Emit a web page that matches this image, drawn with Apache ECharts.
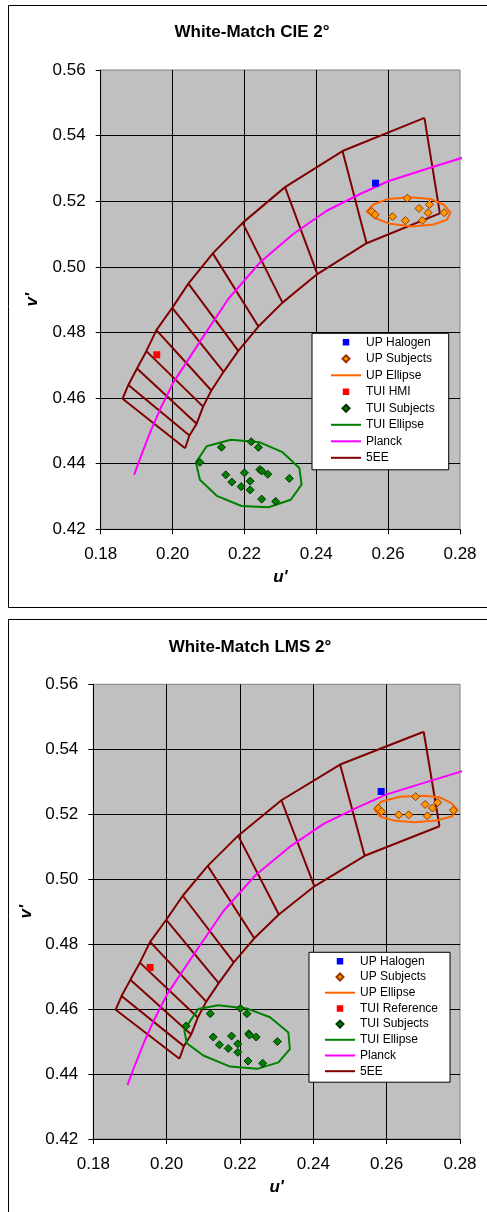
<!DOCTYPE html>
<html><head><meta charset="utf-8">
<script src="https://cdn.jsdelivr.net/npm/echarts@6/dist/echarts.min.js"></script>
<style>html,body{margin:0;padding:0;background:#fff}#c{width:487px;height:1212px}</style>
</head><body><div id="c"></div>
<script>
// ---------- data ----------
const titles = ['White-Match CIE 2°', 'White-Match LMS 2°'];
const uTicks = [0.18, 0.20, 0.22, 0.24, 0.26, 0.28];
const vTicks = [0.42, 0.44, 0.46, 0.48, 0.50, 0.52, 0.54, 0.56];

const planck = [[0.1893,0.4366],[0.1909,0.4414],[0.1937,0.4494],[0.1965,0.4565],[0.2002,0.4647],[0.2078,0.4775],[0.2155,0.4902],[0.2243,0.5013],[0.2336,0.5100],[0.2429,0.5171],[0.2522,0.5222],[0.2600,0.5261],[0.2717,0.5302],[0.2814,0.5335]];

const fiveEEUpper = [[0.2701,0.5454],[0.2473,0.5353],[0.2313,0.5243],[0.2195,0.5134],[0.2112,0.5041],[0.2044,0.4949],[0.1999,0.4875],[0.1955,0.4807],[0.1927,0.4743],[0.1901,0.4690],[0.1877,0.4640],[0.1861,0.4598]];
const fiveEELower = [[0.2744,0.5163],[0.2540,0.5072],[0.2403,0.4978],[0.2306,0.4891],[0.2239,0.4818],[0.2183,0.4744],[0.2142,0.4680],[0.2108,0.4623],[0.2085,0.4574],[0.2067,0.4522],[0.2047,0.4486],[0.2035,0.4447]];

// CIE 2° chart
const cieUpHalogen = [[0.2565,0.5255]];
const cieUpSubjects = [[0.2554,0.5169],[0.2564,0.5159],[0.2612,0.5153],[0.2653,0.5209],[0.2648,0.5141],[0.2686,0.5178],[0.2715,0.5190],[0.2711,0.5165],[0.2695,0.5141],[0.2756,0.5165]];
const cieUpEllipse = [[0.2540,0.5169],[0.2559,0.5190],[0.2600,0.5207],[0.2661,0.5212],[0.2717,0.5207],[0.2754,0.5190],[0.2774,0.5166],[0.2763,0.5143],[0.2726,0.5129],[0.2666,0.5123],[0.2605,0.5131],[0.2563,0.5149],[0.2540,0.5169]];
const cieTuiRef = [[0.1956,0.4732]];
const cieTuiSubjects = [[0.2076,0.4404],[0.2136,0.4450],[0.2219,0.4467],[0.2239,0.4450],[0.2148,0.4366],[0.2165,0.4344],[0.2191,0.4330],[0.2200,0.4372],[0.2216,0.4347],[0.2216,0.4320],[0.2243,0.4382],[0.2248,0.4378],[0.2265,0.4368],[0.2248,0.4292],[0.2287,0.4285],[0.2325,0.4355]];
const cieTuiEllipse = [[0.2065,0.4404],[0.2076,0.4351],[0.2123,0.4302],[0.2192,0.4271],[0.2267,0.4267],[0.2329,0.4290],[0.2359,0.4336],[0.2353,0.4387],[0.2306,0.4435],[0.2243,0.4465],[0.2162,0.4473],[0.2095,0.4453],[0.2065,0.4404]];

// LMS 2° chart
const lmsUpHalogen = [[0.2585,0.5270]];
const lmsUpSubjects = [[0.2577,0.5218],[0.2586,0.5208],[0.2633,0.5198],[0.2660,0.5198],[0.2679,0.5254],[0.2705,0.5230],[0.2725,0.5219],[0.2739,0.5236],[0.2711,0.5195],[0.2782,0.5212]];
const lmsUpEllipse = [[0.2566,0.5215],[0.2586,0.5239],[0.2636,0.5254],[0.2700,0.5257],[0.2745,0.5252],[0.2777,0.5234],[0.2793,0.5213],[0.2777,0.5193],[0.2736,0.5181],[0.2677,0.5175],[0.2618,0.5181],[0.2582,0.5193],[0.2566,0.5215]];
const lmsTuiRef = [[0.1955,0.4728]];
const lmsTuiSubjects = [[0.2053,0.4548],[0.2119,0.4586],[0.2201,0.4602],[0.2219,0.4586],[0.2127,0.4514],[0.2144,0.4490],[0.2168,0.4479],[0.2177,0.4517],[0.2194,0.4493],[0.2194,0.4467],[0.2224,0.4524],[0.2226,0.4520],[0.2244,0.4514],[0.2222,0.4440],[0.2262,0.4433],[0.2302,0.4500]];
const lmsTuiEllipse = [[0.2048,0.4536],[0.2055,0.4495],[0.2100,0.4457],[0.2173,0.4423],[0.2247,0.4416],[0.2305,0.4436],[0.2336,0.4477],[0.2332,0.4528],[0.2282,0.4575],[0.2218,0.4602],[0.2141,0.4612],[0.2086,0.4600],[0.2048,0.4536]];

const legendNames = [
  ['UP Halogen','UP Subjects','UP Ellipse','TUI HMI','TUI Subjects','TUI Ellipse','Planck','5EE'],
  ['UP Halogen','UP Subjects','UP Ellipse','TUI Reference','TUI Subjects','TUI Ellipse','Planck','5EE']
];
const lineNames = ['UP Ellipse','TUI Ellipse','Planck','5EE'];
const squareNames = ['UP Halogen','TUI HMI','TUI Reference'];

// ---------- chart ----------
const FONT = 'Arial, "Liberation Sans", sans-serif';
const chart = echarts.init(document.getElementById('c'), null, {renderer: 'canvas'});

const grids = [
  {left: 100.7, top: 70, width: 359.3, height: 459.3},
  {left: 93.3, top: 684.3, width: 366.7, height: 454.7}
];
const yNameGap = [60, 52];

function lineS(gi, name, data, color, extra) {
  return Object.assign({
    type: 'line', name, data, xAxisIndex: gi, yAxisIndex: gi,
    symbol: 'none', showSymbol: false, smooth: false,
    lineStyle: {color, width: 2}, itemStyle: {color},
    emphasis: {disabled: true}, silent: true, z: 3
  }, extra || {});
}
function scatS(gi, name, data, symbol, size, color, border) {
  return {
    type: 'scatter', name, data, xAxisIndex: gi, yAxisIndex: gi,
    symbol, symbolSize: size,
    itemStyle: {color, borderColor: border || color, borderWidth: border ? 1 : 0, opacity: 1},
    emphasis: {disabled: true}, silent: true, z: 5
  };
}

function buildSeries(gi, d) {
  const s = [];
  const eeColor = '#800000';
  s.push(lineS(gi, '5EE', fiveEEUpper, eeColor, {z: 2}));
  s.push(lineS(gi, '5EE', fiveEELower, eeColor, {z: 2}));
  for (let i = 0; i < fiveEEUpper.length; i++) {
    s.push(lineS(gi, '5EE', [fiveEEUpper[i], fiveEELower[i]], eeColor, {z: 2}));
  }
  s.push(lineS(gi, 'Planck', planck, '#FF00FF', {clip: false, z: 3}));
  s.push(lineS(gi, 'UP Ellipse', d.upEllipse, '#FF6600', {z: 4}));
  s.push(lineS(gi, 'TUI Ellipse', d.tuiEllipse, '#008000', {z: 4}));
  s.push(scatS(gi, 'UP Halogen', d.upHalogen, 'rect', 7, '#0000FF'));
  s.push(scatS(gi, 'UP Subjects', d.upSubjects, 'diamond', 8, '#FF9900', '#993300'));
  s.push(scatS(gi, d.tuiName, d.tuiRef, 'rect', 7, '#FF0000'));
  s.push(scatS(gi, 'TUI Subjects', d.tuiSubjects, 'diamond', 8, '#008000', '#003300'));
  return s;
}

const series = [].concat(
  buildSeries(0, {upHalogen: cieUpHalogen, upSubjects: cieUpSubjects, upEllipse: cieUpEllipse, tuiRef: cieTuiRef, tuiSubjects: cieTuiSubjects, tuiEllipse: cieTuiEllipse, tuiName: 'TUI HMI'}),
  buildSeries(1, {upHalogen: lmsUpHalogen, upSubjects: lmsUpSubjects, upEllipse: lmsUpEllipse, tuiRef: lmsTuiRef, tuiSubjects: lmsTuiSubjects, tuiEllipse: lmsTuiEllipse, tuiName: 'TUI Reference'})
);

const fmt = v => v.toFixed(2);
const xAxes = [0, 1].map(i => ({
  type: 'value', gridIndex: i,
  min: uTicks[0], max: uTicks[uTicks.length - 1], interval: 0.02,
  name: "u'", nameLocation: 'middle', nameGap: 40,
  nameTextStyle: {fontSize: 17, fontWeight: 'bold', fontStyle: 'italic', color: '#000', fontFamily: FONT},
  axisLine: {show: true, onZero: false, lineStyle: {color: '#000', width: 1}},
  axisTick: {show: true, length: 5, lineStyle: {color: '#000'}},
  axisLabel: {formatter: fmt, fontSize: 17, color: '#000', fontFamily: FONT, margin: 17},
  splitLine: {show: true, showMinLine: false, showMaxLine: false, lineStyle: {color: '#000', width: 1}}
}));
const yAxes = [0, 1].map(i => ({
  type: 'value', gridIndex: i,
  min: vTicks[0], max: vTicks[vTicks.length - 1], interval: 0.02,
  name: "v'", nameLocation: 'middle', nameGap: yNameGap[i], nameRotate: 90,
  nameTextStyle: {fontSize: 17, fontWeight: 'bold', fontStyle: 'italic', color: '#000', fontFamily: FONT},
  axisLine: {show: true, onZero: false, lineStyle: {color: '#000', width: 1}},
  axisTick: {show: true, length: 5, lineStyle: {color: '#000'}},
  axisLabel: {formatter: fmt, fontSize: 17, color: '#000', fontFamily: FONT, margin: 15},
  splitLine: {show: true, showMinLine: false, showMaxLine: false, lineStyle: {color: '#000', width: 1}}
}));

const legendPos = [
  {left: 312, top: 333.3, padding: [3, 14, 6, 18], itemGap: 4.5},
  {left: 309, top: 952.3, padding: [3, 12, 5, 15], itemGap: 3.7}
];
// icons drawn inside a 30x7 box so they are not stretched
const LINE_ICON = 'path://M0,0H30V2H0Z';
const SQUARE_ICON = 'path://M0,0L0.01,0M11.75,0.25H18.25V6.75H11.75ZM29.99,7L30,7';
const DIAMOND_ICON = 'path://M0,0L0.01,0M15,0L18.5,3.5L15,7L11.5,3.5ZM29.99,7L30,7';
function legendData(names) {
  return names.map(n => {
    if (lineNames.indexOf(n) >= 0) return {name: n, icon: LINE_ICON};
    if (squareNames.indexOf(n) >= 0) return {name: n, icon: SQUARE_ICON};
    return {name: n, icon: DIAMOND_ICON};
  });
}

chart.setOption({
  animation: false,
  backgroundColor: '#fff',
  title: [
    {text: titles[0], left: 252, top: 24, textAlign: 'center', padding: 0,
     textStyle: {fontSize: 17, fontWeight: 'bold', color: '#000', fontFamily: FONT}},
    {text: titles[1], left: 250, top: 638.5, textAlign: 'center', padding: 0,
     textStyle: {fontSize: 17, fontWeight: 'bold', color: '#000', fontFamily: FONT}}
  ],
  grid: grids.map(g => Object.assign({
    show: true, backgroundColor: '#C0C0C0', borderColor: '#808080', borderWidth: 1,
    containLabel: false, outerBoundsMode: 'none'
  }, g)),
  xAxis: xAxes,
  yAxis: yAxes,
  legend: [0, 1].map(i => Object.assign({
    orient: 'vertical', data: legendData(legendNames[i]), selectedMode: false,
    itemWidth: 30, itemHeight: 7,
    backgroundColor: '#fff', borderColor: '#000', borderWidth: 1,
    textStyle: {fontSize: 12, color: '#000', fontFamily: FONT, lineHeight: 12},
    z: 10
  }, legendPos[i])),
  graphic: [
    {type: 'rect', shape: {x: 8.5, y: 5.5, width: 500, height: 602}, style: {fill: 'none', stroke: '#000', lineWidth: 1}, silent: true, z: -1},
    {type: 'rect', shape: {x: 8.5, y: 619.5, width: 500, height: 620}, style: {fill: 'none', stroke: '#000', lineWidth: 1}, silent: true, z: -1}
  ],
  series
});
</script></body></html>
